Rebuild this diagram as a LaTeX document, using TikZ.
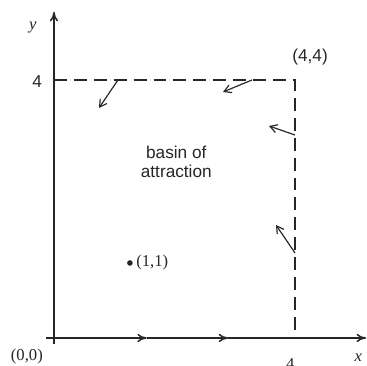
\documentclass[tikz,border=0pt]{standalone}
\usepackage{fontspec}
\setmainfont{Liberation Serif}
\setsansfont{Liberation Sans}
\usetikzlibrary{arrows.meta}
\tikzset{
  axisline/.style={line width=1.3pt, draw=black!85, -{To[length=8pt,width=7pt]}},
  boundline/.style={line width=1.1pt, draw=black!85, dash pattern=on 11pt off 6pt},
  flow/.style={line width=1pt, draw=black!85, -{Straight Barb[length=6pt,width=7pt]}},
  sanslabel/.style={font=\sffamily\fontsize{14.7}{16.2}\selectfont, text=black!85, align=center},
  seriflabel/.style={font=\fontsize{14.2}{16}\selectfont, text=black!85},
}

\begin{document}
\begin{tikzpicture}[x=1.8075cm, y=1.935cm]
\useasboundingbox (-0.896,-0.434) rectangle (5.195,5.240);
% axes
\coordinate (xstart) at (-0.133,0);
\coordinate (xm1) at (1.54,0);
\coordinate (xm2) at (2.89,0);
\coordinate (xend) at (5.178,0);
\coordinate (ystart) at (0,-0.093);
\coordinate (yend) at (0,5.054);
\draw[axisline] (xstart) -- (xm1);
\draw[axisline] (xm1) -- (xm2);
\draw[axisline] (xm2) -- (xend);
\draw[axisline] (ystart) -- (yend);
% boundary of the square
\coordinate (ytop) at (0,4);
\coordinate (corner) at (4,4);
\coordinate (xright) at (4,0);
\draw[boundline] (ytop) -- (corner) -- (xright);
% flow arrows
\coordinate (fa1) at (1.062,4);
\coordinate (fb1) at (0.747,3.566);
\coordinate (fa2) at (3.286,4);
\coordinate (fb2) at (2.805,3.814);
\coordinate (fa3) at (4,3.147);
\coordinate (fb3) at (3.568,3.287);
\coordinate (fa4) at (4,1.318);
\coordinate (fb4) at (3.685,1.752);
\draw[flow] (fa1) -- (fb1);
\draw[flow] (fa2) -- (fb2);
\draw[flow] (fa3) -- (fb3);
\draw[flow] (fa4) -- (fb4);
% labels
\node[seriflabel, font=\itshape\fontsize{14.2}{16}\selectfont] (ylab) at (-0.35,4.81) {y};
\node[seriflabel, font=\itshape\fontsize{14.2}{16}\selectfont] (xlab) at (5.05,-0.31) {x};
\node[sanslabel] (ytick) at (-0.28,3.98) {4};
\node[seriflabel] (xtick) at (3.92,-0.41) {4};
\node[sanslabel] (cornerlab) at (4.25,4.36) {(4,4)};
\node[seriflabel] (origin) at (-0.45,-0.29) {(0,0)};
\node[sanslabel] (basin) at (2.03,2.73) {basin of\\attraction};
\fill[black!85] (1.26,1.163) circle (2.4pt) coordinate (fixpt);
\node[seriflabel, anchor=west] (fixlab) at ([xshift=2pt]fixpt) {(1,1)};
\end{tikzpicture}
\end{document}
